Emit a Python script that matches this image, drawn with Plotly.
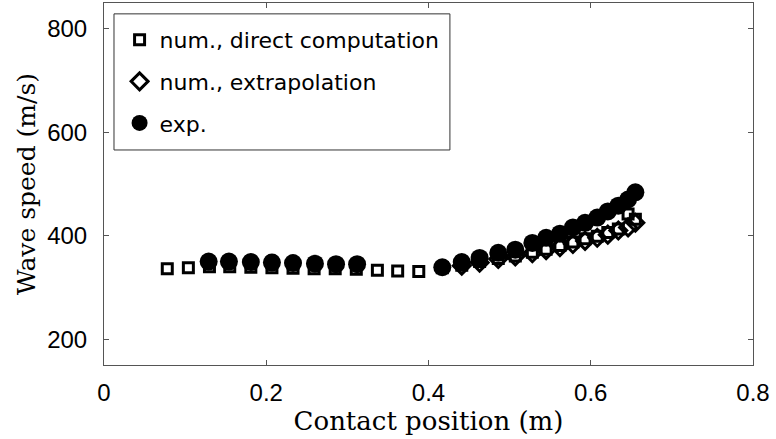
import plotly.graph_objects as go

# num., direct computation
x_direct = [0.078, 0.104, 0.130, 0.155, 0.181, 0.207, 0.233, 0.259, 0.285, 0.311,
            0.337, 0.362, 0.388, 0.417, 0.441, 0.463, 0.486, 0.507, 0.528, 0.545,
            0.562, 0.578, 0.593, 0.608, 0.621, 0.634, 0.646, 0.655]
v_direct = [336, 338, 340, 340, 339, 338, 337, 336, 336, 335,
            333, 332, 331, 338, 343, 350, 356, 361, 368, 374,
            381, 388, 394, 399, 406, 413, 442, 432]

# num., extrapolation
x_extra = [0.441, 0.463, 0.486, 0.507, 0.528, 0.545, 0.562, 0.578, 0.593, 0.608,
           0.621, 0.634, 0.646, 0.655]
v_extra = [342, 348, 355, 360, 366, 372, 378, 384, 390, 396,
           402, 410, 416, 425]

# exp.
x_exp = [0.129, 0.154, 0.181, 0.207, 0.233, 0.260, 0.286, 0.312,
         0.417, 0.441, 0.463, 0.486, 0.507, 0.528, 0.545, 0.562, 0.578,
         0.593, 0.608, 0.621, 0.634, 0.646, 0.655]
v_exp = [350, 350, 349, 348, 347, 346, 345, 345,
         339, 349, 357, 367, 373, 386, 396, 404, 416,
         425, 435, 447, 458, 470, 484]

fig = go.Figure()
fig.add_trace(go.Scatter(x=x_direct, y=v_direct, mode='markers', name='num., direct computation',
                         legendgroup='a',
                         marker=dict(symbol='square-open', size=10, color='black', line=dict(width=3))))
fig.add_trace(go.Scatter(x=x_extra, y=v_extra, mode='markers', name='num., extrapolation',
                         legendgroup='b',
                         marker=dict(symbol='diamond-open', size=13, color='black', line=dict(width=3))))
fig.add_trace(go.Scatter(x=x_exp, y=v_exp, mode='markers', name='exp.',
                         legendgroup='c',
                         marker=dict(symbol='circle', size=18, color='black')))

axis_style = dict(showline=True, linecolor='#555', linewidth=1, mirror='ticks',
                  ticks='inside', ticklen=5, tickcolor='#555', showgrid=False, zeroline=False,
                  automargin=False,
                  tickfont=dict(family='Liberation Sans', size=24, color='black'))

# legend frame drawn as a shape so its padding can match
fig.add_shape(type='rect', xref='paper', yref='paper', x0=0.0154, x1=0.533, y0=0.594, y1=0.970,
              line=dict(color='#333', width=1), fillcolor='white', layer='above')

fig.update_layout(
    width=776, height=439,
    margin=dict(l=104, r=23, t=3, b=74),
    plot_bgcolor='white', paper_bgcolor='white',
    xaxis=dict(range=[0, 0.8], tickvals=[0, 0.2, 0.4, 0.6, 0.8], ticktext=['0', '0.2', '0.4', '0.6', '0.8'],
               ticklabelstandoff=6,
               title=dict(text='Contact position (m)', standoff=1,
                          font=dict(family='DejaVu Serif', size=26, color='black')),
               **axis_style),
    yaxis=dict(range=[150, 850], tickvals=[200, 400, 600, 800],
               ticklabelstandoff=11,
               title=dict(text='Wave speed (m/s)', standoff=4,
                          font=dict(family='DejaVu Serif', size=25, color='black')),
               **axis_style),
    legend=dict(x=0.024, y=0.956, xanchor='left', yanchor='top',
                borderwidth=0, bgcolor='rgba(0,0,0,0)',
                tracegroupgap=10,
                font=dict(family='DejaVu Sans', size=22, color='black')),
)

fig.write_html("out.html", config={'displayModeBar': False},
               post_script="document.body.style.margin='0';")
